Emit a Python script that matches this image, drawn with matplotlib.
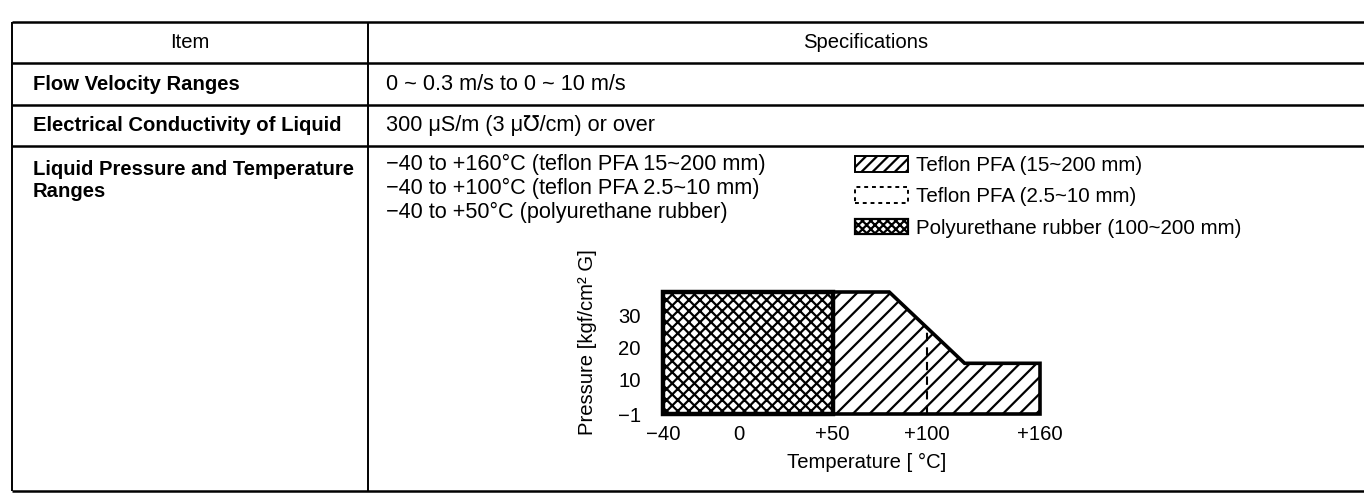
import numpy as np
import matplotlib.pyplot as plt
from matplotlib.patches import Patch

plt.rcParams['font.family'] = ['Liberation Sans', 'DejaVu Sans']
plt.rcParams['hatch.linewidth'] = 1.6

# table content
items = ['Flow Velocity Ranges', 'Electrical Conductivity of Liquid',
         'Liquid Pressure and Temperature\nRanges']
specs = ['0 ~ 0.3 m/s to 0 ~ 10 m/s', '300 \u03bcS/m (3 \u03bc\u2127/cm) or over']
temp_lines = ['\u221240 to +160\u00b0C (teflon PFA 15~200 mm)',
              '\u221240 to +100\u00b0C (teflon PFA 2.5~10 mm)',
              '\u221240 to +50\u00b0C (polyurethane rubber)']
legend_labels = ['Teflon PFA (15~200 mm)', 'Teflon PFA (2.5~10 mm)',
                 'Polyurethane rubber (100~200 mm)']

# chart data (temperature degC, pressure kgf/cm2 G)
pfa_temp = [50, 50, 80, 120, 160, 160]
pfa_pres = [-1, 37.5, 37.5, 15, 15, -1]
pu_temp = [-40, -40, 50, 50]
pu_pres = [-1, 37.5, 37.5, -1]
pfa_small_limit = 100
xticks = [-40, 0, 50, 100, 160]
xtick_labels = ['\u221240', '0', '+50', '+100', '+160']
yticks = [-1, 10, 20, 30]
ytick_labels = ['\u22121', '10', '20', '30']

W, H = 1364, 496
fig = plt.figure(figsize=(W / 100, H / 100), dpi=100)

tab = fig.add_axes([0, 0, 1, 1])
tab.set_xlim(0, W)
tab.set_ylim(H, 0)
tab.axis('off')

fs = 14.6
x0, xs, x1 = 12, 368, 1380
rows = [22, 63, 105, 146, 491]
tab.hlines(rows, x0, x1, color='black', lw=1.8)
tab.vlines([x0, xs], rows[0], rows[-1], color='black', lw=1.4)

tab.text((x0 + xs) / 2, (rows[0] + rows[1]) / 2, 'Item', ha='center', va='center', fontsize=fs)
tab.text((xs + W) / 2, (rows[0] + rows[1]) / 2, 'Specifications', ha='center', va='center', fontsize=fs)
for i, t in enumerate(items[:2]):
    tab.text(33, (rows[i + 1] + rows[i + 2]) / 2, t, ha='left', va='center',
             fontsize=fs, fontweight='bold')
    tab.text(386, (rows[i + 1] + rows[i + 2]) / 2, specs[i], ha='left', va='center', fontsize=fs + 1)
tab.text(33, 160, items[2], ha='left', va='top', fontsize=fs, fontweight='bold',
         linespacing=1.2)
for i, t in enumerate(temp_lines):
    tab.text(386, 164 + i * 24, t, ha='left', va='center', fontsize=fs + 1)

handles = [Patch(facecolor='white', edgecolor='black', hatch='///', lw=1.4),
           Patch(facecolor='white', edgecolor='black', ls=(0, (2, 2)), lw=1.4),
           Patch(facecolor='white', edgecolor='black', hatch='xxxx', lw=1.6)]
fig.legend(handles, legend_labels, loc='upper left', bbox_to_anchor=(855 / W, 1 - 156 / H),
           frameon=False, fontsize=fs + 0.2, handlelength=2.6, handleheight=0.8,
           handletextpad=0.35, labelspacing=0.6, borderpad=0, borderaxespad=0)

# chart
ax = fig.add_axes([663 / W, (H - 414) / H, 377 / W, 122 / H])
ax.fill(pu_temp, pu_pres, facecolor='white', edgecolor='black', hatch='xxx',
        lw=3.2, clip_on=False, zorder=3)
ax.fill(pfa_temp, pfa_pres, facecolor='white', edgecolor='black', hatch='//',
        lw=2.6, clip_on=False, zorder=2)
top = np.interp(pfa_small_limit, pfa_temp[2:4], pfa_pres[2:4])
ax.vlines(pfa_small_limit, -1, top, color='black', lw=1.5, linestyles=(0, (4, 3)), zorder=4)
ax.set_xlim(-40, 160)
ax.set_ylim(-1, 37.5)
for s in ax.spines.values():
    s.set_visible(False)
ax.set_xticks(xticks, xtick_labels, fontsize=fs)
ax.set_yticks(yticks, ytick_labels, fontsize=fs)
ax.tick_params(length=0)
ax.tick_params(axis='x', pad=8)
ax.tick_params(axis='y', pad=16)
ax.set_facecolor('none')
ax.set_xlabel('Temperature [ \u00b0C]', fontsize=fs)
ax.xaxis.set_label_coords(0.541, -0.32)
ax.set_ylabel('Pressure [kgf/cm\u00b2 G]', fontsize=fs)
ax.yaxis.set_label_coords(-0.175, 0.59)

fig.savefig('out.png', dpi=100)
